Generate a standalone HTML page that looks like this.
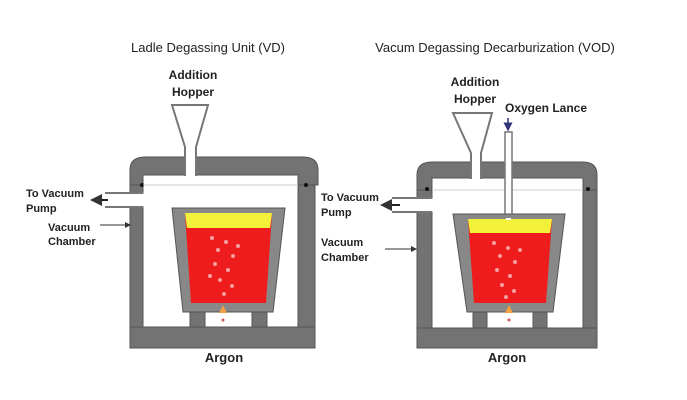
<!DOCTYPE html>
<html><head><meta charset="utf-8"><style>
html,body{margin:0;padding:0;background:#fff;}
svg{display:block;}
text{font-family:"Liberation Sans",sans-serif;font-weight:bold;fill:#222;}
</style></head><body>
<svg width="687" height="400" viewBox="0 0 687 400" xmlns="http://www.w3.org/2000/svg">
<defs>
<marker id="ah" markerWidth="6" markerHeight="6" refX="5" refY="3" orient="auto"><path d="M0,0 L6,3 L0,6 z" fill="#333"/></marker>
<marker id="ahb" markerWidth="6" markerHeight="6" refX="5" refY="3" orient="auto"><path d="M0,0 L6,3 L0,6 z" fill="#33337a"/></marker>
</defs>
<text x="208" y="52" font-size="13" text-anchor="middle" style="font-weight:normal">Ladle Degassing Unit (VD)</text>
<text x="495" y="52" font-size="13" text-anchor="middle" style="font-weight:normal">Vacum Degassing Decarburization (VOD)</text>

<!-- LEFT UNIT -->
<g>
<text x="193" y="79" font-size="12" text-anchor="middle">Addition</text>
<text x="193" y="96" font-size="12" text-anchor="middle">Hopper</text>
<path d="M130,185 L130,170 Q130,157 145,157 L303,157 Q318,157 318,170 L318,185 L298,185 L298,175 L143,175 L143,185 Z" fill="#737373" stroke="#555"/>
<rect x="130" y="185" width="13" height="8" fill="#737373" stroke="#555"/>
<rect x="130" y="207" width="13" height="141" fill="#737373" stroke="#555"/>
<rect x="298" y="185" width="17" height="163" fill="#737373" stroke="#555"/>
<rect x="130" y="327" width="185" height="21" fill="#737373" stroke="#555"/>
<circle cx="142" cy="185" r="2" fill="#111"/><circle cx="306" cy="185" r="2" fill="#111"/>
<line x1="143" y1="185" x2="298" y2="185" stroke="#ccc"/>
<line x1="105" y1="193" x2="143" y2="193" stroke="#777" stroke-width="2"/>
<line x1="105" y1="207" x2="143" y2="207" stroke="#777" stroke-width="2"/>
<line x1="108" y1="200" x2="92" y2="200" stroke="#222" stroke-width="2" marker-end="url(#ah)"/>
<path d="M172,105 L208,105 L196,147 L196,175 L185,175 L185,147 Z" fill="#fff" stroke="#777" stroke-width="2"/>
<rect x="186" y="150" width="9" height="30" fill="#fff"/>
<rect x="190" y="312" width="15" height="15" fill="#737373" stroke="#555"/>
<rect x="252" y="312" width="15" height="15" fill="#737373" stroke="#555"/>
<path d="M172,208 L285,208 L273,312 L183,312 Z" fill="#888" stroke="#555"/>
<path d="M185,213 L272,213 L266,303 L191,303 Z" fill="#ee1c1c"/>
<path d="M185,213 L272,213 L270,228 L187,228 Z" fill="#f3f03a"/>
<path d="M223,305 l-4,8 h8 z" fill="#f5a040"/>
<circle cx="223" cy="320" r="1.5" fill="#c55"/>
<g fill="#f5a0a0">
<circle cx="212" cy="238" r="2"/><circle cx="226" cy="242" r="2"/><circle cx="218" cy="250" r="2"/><circle cx="233" cy="256" r="2"/><circle cx="215" cy="264" r="2"/><circle cx="228" cy="270" r="2"/><circle cx="220" cy="280" r="2"/><circle cx="232" cy="286" r="2"/><circle cx="224" cy="294" r="2"/><circle cx="238" cy="246" r="2"/><circle cx="210" cy="276" r="2"/>
</g>
<text x="26" y="197" font-size="11">To Vacuum</text>
<text x="26" y="212" font-size="11">Pump</text>
<text x="48" y="231" font-size="11">Vacuum</text>
<text x="48" y="245" font-size="11">Chamber</text>
<line x1="100" y1="225" x2="130" y2="225" stroke="#333" marker-end="url(#ah)"/>
<text x="224" y="362" font-size="13" text-anchor="middle">Argon</text>
</g>

<!-- RIGHT UNIT -->
<g>
<text x="475" y="86" font-size="12" text-anchor="middle">Addition</text>
<text x="475" y="103" font-size="12" text-anchor="middle">Hopper</text>
<text x="505" y="112" font-size="12">Oxygen Lance</text>
<path d="M417,190 L417,175 Q417,162 432,162 L583,162 Q597,162 597,175 L597,190 L583,190 L583,178 L432,178 L432,190 Z" fill="#737373" stroke="#555"/>
<rect x="417" y="190" width="15" height="8" fill="#737373" stroke="#555"/>
<rect x="417" y="212" width="15" height="136" fill="#737373" stroke="#555"/>
<rect x="583" y="190" width="14" height="158" fill="#737373" stroke="#555"/>
<rect x="417" y="328" width="180" height="20" fill="#737373" stroke="#555"/>
<circle cx="427" cy="189" r="2" fill="#111"/><circle cx="588" cy="189" r="2" fill="#111"/>
<line x1="432" y1="190" x2="583" y2="190" stroke="#ccc"/>
<line x1="392" y1="198" x2="432" y2="198" stroke="#777" stroke-width="2"/>
<line x1="392" y1="212" x2="432" y2="212" stroke="#777" stroke-width="2"/>
<line x1="400" y1="205" x2="382" y2="205" stroke="#222" stroke-width="2" marker-end="url(#ah)"/>
<path d="M453,113 L492,113 L481,153 L481,178 L471,178 L471,153 Z" fill="#fff" stroke="#777" stroke-width="2"/>
<rect x="472" y="156" width="8" height="26" fill="#fff"/>
<line x1="508" y1="118" x2="508" y2="130" stroke="#33337a" stroke-width="1.5" marker-end="url(#ahb)"/>
<rect x="505" y="132" width="7" height="86" fill="#fff" stroke="#777" stroke-width="1.5"/>
<rect x="473" y="312" width="14" height="16" fill="#737373" stroke="#555"/>
<rect x="533" y="312" width="14" height="16" fill="#737373" stroke="#555"/>
<path d="M453,214 L565,214 L553,312 L467,312 Z" fill="#888" stroke="#555"/>
<path d="M468,219 L552,219 L546,303 L474,303 Z" fill="#ee1c1c"/>
<path d="M468,219 L552,219 L550,233 L470,233 Z" fill="#f3f03a"/>
<rect x="506" y="218" width="5" height="2" fill="#fff"/>
<path d="M509,305 l-4,8 h8 z" fill="#f5a040"/>
<circle cx="509" cy="320" r="1.5" fill="#c55"/>
<g fill="#f5a0a0">
<circle cx="494" cy="243" r="2"/><circle cx="508" cy="248" r="2"/><circle cx="500" cy="256" r="2"/><circle cx="515" cy="262" r="2"/><circle cx="497" cy="270" r="2"/><circle cx="510" cy="276" r="2"/><circle cx="502" cy="285" r="2"/><circle cx="514" cy="291" r="2"/><circle cx="506" cy="297" r="2"/><circle cx="520" cy="250" r="2"/>
</g>
<text x="321" y="201" font-size="11">To Vacuum</text>
<text x="321" y="216" font-size="11">Pump</text>
<text x="321" y="246" font-size="11">Vacuum</text>
<text x="321" y="261" font-size="11">Chamber</text>
<line x1="385" y1="249" x2="416" y2="249" stroke="#333" marker-end="url(#ah)"/>
<text x="507" y="362" font-size="13" text-anchor="middle">Argon</text>
</g>
</svg>
</body></html>
